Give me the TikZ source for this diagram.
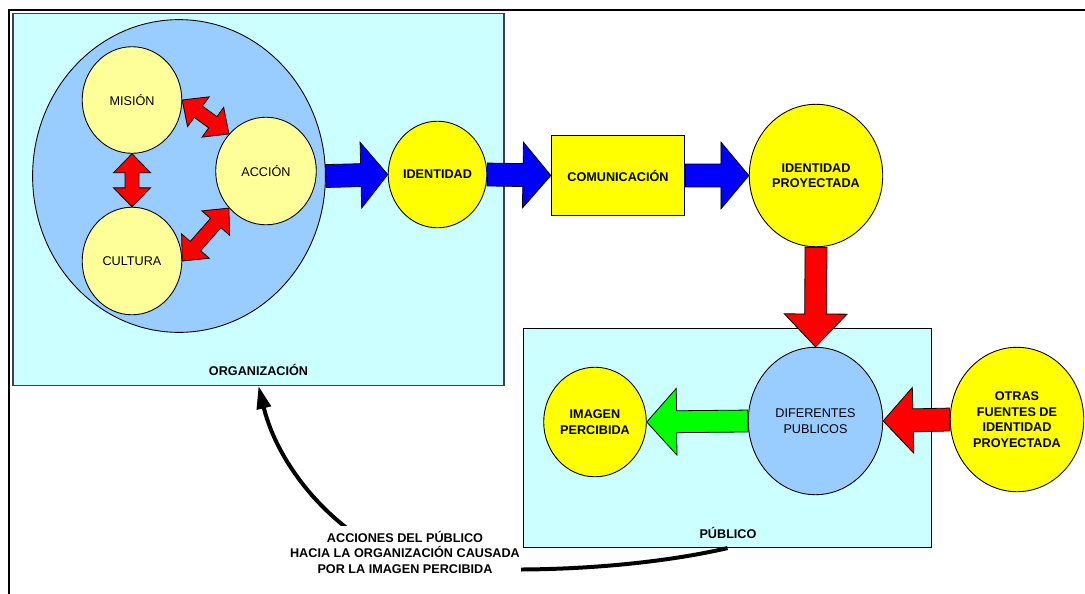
\documentclass[tikz,border=0pt]{standalone}
\usepackage{fontspec}
\setmainfont{Liberation Sans}
\usetikzlibrary{calc,shapes.geometric,arrows.meta}

\definecolor{paleCyan}{HTML}{CCFFFF}
\definecolor{skyBlue}{HTML}{99CCFF}
\definecolor{paleYellow}{HTML}{FFFF99}
\definecolor{brightYellow}{HTML}{FFFF00}
\definecolor{flowBlue}{HTML}{0000FF}
\definecolor{flowRed}{HTML}{FF0000}
\definecolor{flowGreen}{HTML}{00FF00}

% one drawing unit (0.02cm) expressed in points
\newcommand\upx{0.5669pt}

% block arrow from #1 to #2: shaft half width #3, head half width #4,
% head length #5 (drawing units), fill colour #6
\newcommand\blockarrow[6]{%
  \path[blockline, fill=#6] let \p1=(#1), \p2=(#2),
    \n1={atan2(\y2-\y1,\x2-\x1)}, \n2={veclen(\x2-\x1,\y2-\y1)} in
    [shift={(\p1)}, rotate=\n1]
    (0pt,{-#3*\upx}) -- ({\n2-#5*\upx},{-#3*\upx}) -- ({\n2-#5*\upx},{-#4*\upx})
    -- ({\n2+0pt},0pt) -- ({\n2-#5*\upx},{#4*\upx}) -- ({\n2-#5*\upx},{#3*\upx})
    -- (0pt,{#3*\upx}) -- cycle;}

% double-headed block arrow between #1 and #2, same parameters
\newcommand\twinarrow[6]{%
  \path[blockline, fill=#6] let \p1=(#1), \p2=(#2),
    \n1={atan2(\y2-\y1,\x2-\x1)}, \n2={veclen(\x2-\x1,\y2-\y1)} in
    [shift={(\p1)}, rotate=\n1]
    (0pt,0pt) -- ({#5*\upx},{#4*\upx}) -- ({#5*\upx},{#3*\upx})
    -- ({\n2-#5*\upx},{#3*\upx}) -- ({\n2-#5*\upx},{#4*\upx}) -- ({\n2+0pt},0pt)
    -- ({\n2-#5*\upx},{-#4*\upx}) -- ({\n2-#5*\upx},{-#3*\upx})
    -- ({#5*\upx},{-#3*\upx}) -- ({#5*\upx},{-#4*\upx}) -- cycle;}

\begin{document}
\begin{tikzpicture}[x=0.02cm, y=-0.02cm,
  txt/.style={font=\fontsize{7.2}{8.8}\selectfont, text=black, align=center},
  bold/.style={txt, font=\fontsize{7.2}{8.8}\selectfont\bfseries},
  sz/.style 2 args={minimum width=#1*\upx, minimum height=#2*\upx},
  outline/.style={draw=black, line width=0.5pt, inner sep=0pt},
  disc/.style={ellipse, outline},
  panel/.style={rectangle, draw=black!75, line width=0.8pt, fill=paleCyan, inner sep=0pt},
  blockline/.style={draw=black, line width=0.45pt, line join=miter},
  feedback/.style={line width=4*\upx, -{Triangle[length=13pt, width=8pt]}}
]
\useasboundingbox (0,0) rectangle (1085,593);

% page frame (top and left edges)
\draw[line width=2.4*\upx] (9,600) -- (9,10) -- (1090,10);

% organisation panel
\node[panel, sz={493}{373}] (org) at (258.5,199.5) {};
\node[bold] (orglabel) at (258.5,370) {ORGANIZACIÓN};
\node[disc, fill=skyBlue, sz={294}{314}] (core) at (179,176) {};
\node[disc, fill=paleYellow, sz={100}{107}, txt] (mis) at (132,100) {MISIÓN};
\node[disc, fill=paleYellow, sz={101}{108}, txt] (acc) at (266,171) {ACCIÓN};
\node[disc, fill=paleYellow, sz={100}{108}, txt] (cul) at (132,261) {CULTURA};

\twinarrow{mis.south}{cul.north}{7}{18.5}{19}{flowRed}
\twinarrow{mis.east}{acc.135}{7}{18.5}{20}{flowRed}
\twinarrow{cul.east}{acc.225}{7}{18.5}{20}{flowRed}

% identity chain
\node[disc, fill=brightYellow, sz={99}{107}, bold] (ident) at (437.5,174.5) {IDENTIDAD};
\node[rectangle, outline, fill=brightYellow, sz={134}{81}, bold] (com) at (618,175.5) {COMUNICACIÓN};
\node[disc, fill=brightYellow, sz={134}{143}, bold] (proy) at (816,175.5) {IDENTIDAD\\PROYECTADA};

\blockarrow{core.east}{ident.west}{11.5}{33}{27}{flowBlue}
\blockarrow{ident.east}{com.west}{11.5}{33}{28}{flowBlue}
\blockarrow{com.east}{proy.west}{11.5}{33.5}{28}{flowBlue}

% public panel
\node[panel, draw=black, line width=0.6pt, sz={409}{220}] (pub) at (727.5,438) {};
\node[bold] (publabel) at (728,533) {PÚBLICO};
\node[disc, fill=skyBlue, sz={135}{148}, txt] (dif) at (815.5,421) {DIFERENTES\\PUBLICOS};
\node[disc, fill=brightYellow, sz={103}{110}, bold] (img) at (595,422) {IMAGEN\\PERCIBIDA};
\node[disc, fill=brightYellow, sz={134}{145}, bold] (otras) at (1017,419.5) {OTRAS\\FUENTES DE\\IDENTIDAD\\PROYECTADA};

\blockarrow{proy.south}{dif.north}{11}{31.5}{33}{flowRed}
\blockarrow{dif.west}{img.east}{11}{33.5}{30}{flowGreen}
\blockarrow{otras.west}{dif.east}{11.5}{33}{30}{flowRed}

% feedback from the public back to the organisation
\draw[feedback] (pub.south) .. controls (650,566) and (540,574) .. (440,567)
  .. controls (362,562) and (282,482) .. (org.south);
\node[bold, fill=white, inner xsep=0.8pt, inner ysep=2.5pt] (note) at (405,552)
  {ACCIONES DEL PÚBLICO\\HACIA LA ORGANIZACIÓN CAUSADA\\POR LA IMAGEN PERCIBIDA};
\end{tikzpicture}
\end{document}
